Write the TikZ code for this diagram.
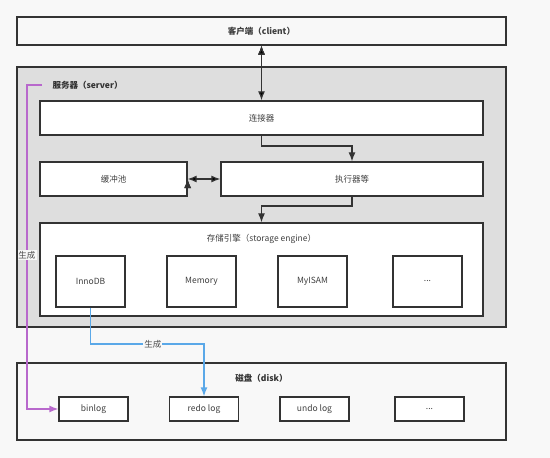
\documentclass[tikz,border=0pt]{standalone}
\usepackage{fontspec}
\setmainfont{Noto Sans CJK SC}
\usepackage{tikz}
\usetikzlibrary{arrows.meta}

\definecolor{bgcol}{HTML}{F8F8F8}
\definecolor{srvcol}{HTML}{DEDEDE}
\definecolor{linecol}{HTML}{333333}
\definecolor{purp}{HTML}{B868CC}
\definecolor{skyb}{HTML}{5AA8E8}

\begin{document}
\begin{tikzpicture}[x=1pt, y=-1pt, >={Latex[length=9pt,width=7pt]}, font=\fontsize{8.5}{10}\selectfont,
    box/.style={draw=linecol, line width=1.3pt, fill=white, text=black!75, inner sep=0pt},
    outer/.style={box, fill=bgcol, font=\fontsize{8.5}{10}\selectfont\bfseries},
    link/.style={draw=linecol, line width=1.2pt},
    gen/.style={fill=bgcol, inner sep=1pt, text=black!70}]
    \useasboundingbox [fill=bgcol] (0,0) rectangle (550,458);

    % Outer boxes {client, server, disk}
    \node [outer, minimum width=489pt, minimum height=28pt]        (client)  at (261.5,31)  {客户端（client）};
    \node [outer, fill=srvcol, minimum width=489pt, minimum height=260pt] (server) at (261.5,197) {};
    \node [text=black!80, font=\fontsize{8.5}{10}\selectfont\bfseries, anchor=west] (srvtitle) at (49,85) {服务器（server）};
    \node [outer, minimum width=489pt, minimum height=77pt]        (disk)    at (261.5,401.5) {};
    \node [text=black!80, font=\fontsize{8.5}{10}\selectfont\bfseries] (disktitle) at (261.5,378) {磁盘（disk）};

    % Server parts
    \node [box, minimum width=443pt, minimum height=34pt]  (conn)    at (261.5,118)  {连接器};
    \node [box, minimum width=147pt, minimum height=34pt]  (buffer)  at (113.5,179)  {缓冲池};
    \node [box, minimum width=262pt, minimum height=34pt]  (exec)    at (352,179)    {执行器等};
    \node [box, minimum width=443pt, minimum height=93pt]  (storage) at (261.5,269.5) {};
    \node [text=black!75] (sttitle) at (261.5,239) {存储引擎（storage engine）};

    % Engines
    \node [box, minimum width=69pt, minimum height=51pt]   (innodb)  at (90.5,281.5)  {InnoDB};
    \node [box, minimum width=69pt, minimum height=51pt]   (memory)  at (201.5,281.5) {Memory};
    \node [box, minimum width=69pt, minimum height=51pt]   (myisam)  at (312.5,281.5) {MyISAM};
    \node [box, minimum width=69pt, minimum height=51pt]   (engmore) at (427.5,281.5) {...};

    % Disk files
    \node [box, minimum width=69pt, minimum height=24pt]   (binlog)  at (93.5,409)  {binlog};
    \node [box, minimum width=69pt, minimum height=24pt]   (redo)    at (204,409)   {redo log};
    \node [box, minimum width=69pt, minimum height=24pt]   (undo)    at (314.5,409) {undo log};
    \node [box, minimum width=69pt, minimum height=24pt]   (logmore) at (429.5,409) {...};

    % Paths
    \path [link, <->] (client.south) edge (conn.north);
    \path [link, <->] (buffer.east)  edge (exec.west);
    \draw [link, ->]  (conn.south) |- (352,146) -- (exec.north);
    \draw [link, ->]  (exec.south) |- (261.5,206) -- (storage.north);

    % Generated logs
    \coordinate (srvmark) at (42,85);
    \draw [draw=purp, line width=1.3pt, ->] (srvmark) -- (27,85)
        -- node [gen, pos=0.525] {生成} (27,409) -- (binlog.west);
    \draw [draw=skyb, line width=1.3pt, ->] (innodb.south) -- (90.5,344)
        -- node [gen, pos=0.55] {生成} (204,344) -- (redo.north);
\end{tikzpicture}
\end{document}
